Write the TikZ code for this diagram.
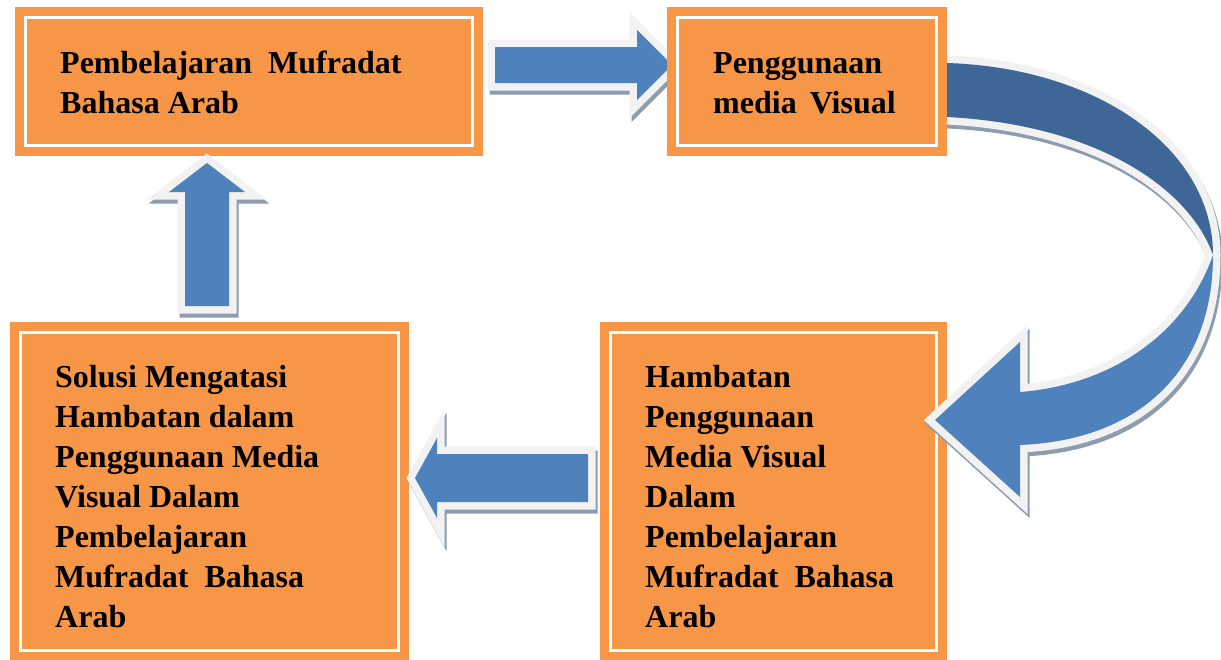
\documentclass[tikz,border=0pt]{standalone}
\usepackage{fontspec}
\setmainfont{Liberation Serif}
\usepackage{xcolor}
\definecolor{boxorange}{HTML}{F79646}
\definecolor{arrowblue}{HTML}{4F81BD}
\definecolor{arrowdark}{RGB}{62,103,152}
\definecolor{rimgray}{HTML}{F2F2F2}
\definecolor{shadowgray}{RGB}{142,156,176}

\tikzset{
  panel/.style={rectangle, fill=boxorange, draw=white, line width=3pt, inner sep=0pt,
    preaction={draw=boxorange, line width=21pt}},
  paneltext/.style={inner sep=0pt, anchor=base west, align=left,
    font=\fontsize{32}{40}\selectfont\bfseries},
  blockarrow/.style={fill=#1, line join=miter, miter limit=5,
    preaction={draw=shadowgray, fill=shadowgray, line width=15pt, line join=miter, miter limit=5,
      transform canvas={shift={(2,4)}}},
    preaction={draw=rimgray, line width=15pt, line join=miter, miter limit=5}},
  blockarrow/.default=arrowblue
}

\begin{document}
\begin{tikzpicture}[x=1pt,y=-1pt]
  \useasboundingbox (0,0) rectangle (1221,659);

  % Hambatan box (under the curved arrow head)
  \node[panel, minimum width=326.5pt, minimum height=318pt] (obstacle) at (773.25,491) {};

  % Arrow to media box
  \path[blockarrow] (495,47) -- (637,47) -- (637,30) -- (672,65) -- (637,100) -- (637,83) -- (495,83) -- cycle;

  % Curved arrow, upper band
  \path[blockarrow=arrowdark] (947,63) .. controls (1100,68) and (1213,150) .. (1213,255)
    .. controls (1190,190) and (1100,125) .. (947,117) -- cycle;
  % Curved arrow, lower band and head
  \path[blockarrow] (1213,255) .. controls (1213,370) and (1140,440) .. (1020,445)
    -- (1020,497) -- (935,420) -- (1020,342) -- (1020,392)
    .. controls (1110,385) and (1185,335) .. (1213,255) -- cycle;

  % Other boxes
  \node[panel, minimum width=259pt, minimum height=128pt] (media) at (807,81.5) {};
  \node[panel, minimum width=447pt, minimum height=127.5pt] (learn) at (248.5,81.25) {};
  \node[panel, minimum width=378pt, minimum height=318pt] (solution) at (209,491) {};

  % Arrow up and arrow left
  \path[blockarrow] (185,306) -- (185,192) -- (169,192) -- (207,163) -- (245,192) -- (229,192) -- (229,306) -- cycle;
  \path[blockarrow] (588,454) -- (437,454) -- (437,438) -- (415,478) -- (437,518) -- (437,502) -- (588,502) -- cycle;

  % Texts (anchored at the baseline of the last line)
  \node[paneltext] (learn-text) at (60,113) {Pembelajaran\ \ Mufradat\\Bahasa Arab};
  \node[paneltext] (media-text) at (713,113) {Penggunaan\\media\hspace{13pt}Visual};
  \node[paneltext] (solution-text) at (55,627) {Solusi Mengatasi\\Hambatan dalam\\Penggunaan Media\\Visual Dalam\\Pembelajaran\\Mufradat\ \ Bahasa\\Arab};
  \node[paneltext] (obstacle-text) at (645,627) {Hambatan\\Penggunaan\\Media Visual\\Dalam\\Pembelajaran\\Mufradat\ \ Bahasa\\Arab};
\end{tikzpicture}
\end{document}
